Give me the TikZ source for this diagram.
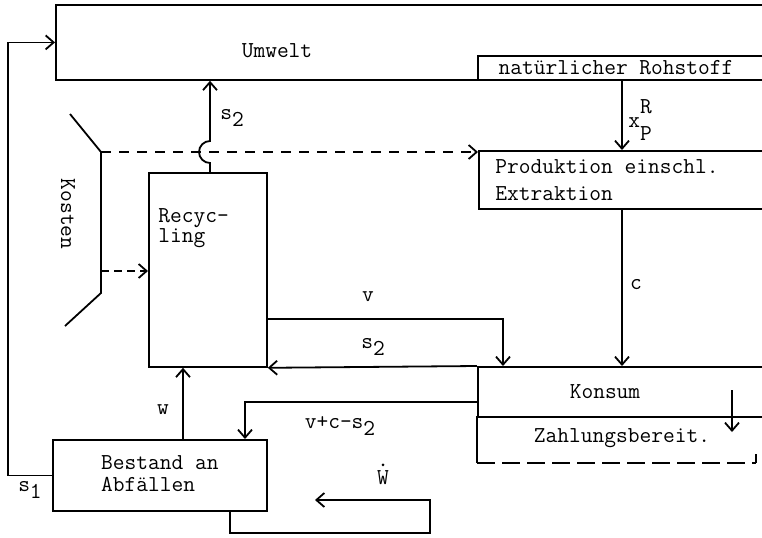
\documentclass[tikz,border=0pt]{standalone}
\usepackage{fontspec}
\usetikzlibrary{arrows.meta}
\newcommand{\lowix}[2]{#1\raisebox{-0.75ex}{#2}}

\tikzset{
  blk/.style={draw,line width=0.9pt,anchor=north west,inner sep=0pt},
  flow/.style={line width=0.9pt,-{Straight Barb[length=4pt,width=7pt]}},
  wire/.style={line width=0.9pt},
  lbl/.style={inner sep=0pt},
}

\begin{document}
\begin{tikzpicture}[x=0.5pt,y=-0.5pt,font=\ttfamily\fontsize{11.4}{13.5}\selectfont]
  \useasboundingbox (0,0) rectangle (762,537);
  \clip (0,0) rectangle (762,537);
  % Kaesten
  \node[blk,minimum width=372.5pt,minimum height=37.5pt] (umwelt) at (55,4) {};
  \node[blk,minimum width=161.5pt,minimum height=12pt] (rohstoff) at (477,55) {};
  \node[blk,minimum width=161pt,minimum height=29pt] (produktion) at (478,150) {};
  \node[blk,minimum width=59pt,minimum height=97pt] (recycling) at (148,172) {};
  \node[blk,minimum width=161.5pt,minimum height=25pt] (konsum) at (477,366) {};
  \node[anchor=north west,inner sep=0pt,minimum width=139pt,minimum height=23pt] (zahl) at (477,416) {};
  \node[blk,minimum width=107pt,minimum height=35.5pt] (bestand) at (52,439) {};
  \draw[wire] (zahl.north west) -- (zahl.south west);
  \draw[wire,dash pattern=on 9pt off 3.5pt] (zahl.south west) -- (zahl.south east);
  \draw[wire] (zahl.south east) -- ++(0,-9);

  \node[lbl] (tumwelt) at (277,51) {Umwelt};
  \node[lbl] (trohstoff) at (616,68) {natürlicher Rohstoff};
  \node[lbl,anchor=west,align=left] (tprod) at (495,180) {Produktion einschl.\\Extraktion};
  \node[lbl,anchor=north west,align=left,font=\ttfamily\fontsize{11.4}{10}\selectfont] (trec) at (158,208) {Recyc-\\ling};
  \node[lbl] (tkonsum) at (605,392) {Konsum};
  \node[lbl] (tzahl) at (622,438) {Zahlungsbereit.};
  \node[lbl,align=left,font=\ttfamily\fontsize{11.4}{11}\selectfont] (tbestand) at ([yshift=1pt]bestand.center) {Bestand an\\Abfällen};
  \node[lbl,rotate=-90] (tkosten) at (68,214) {Kosten};

  % Kosten
  \coordinate (ktop) at (101,152);
  \coordinate (kmid) at (101,271);
  \draw[wire] (70,114) -- (ktop) -- (101,293) -- (65,326);
  \draw[flow,dash pattern=on 5pt off 4pt] (ktop) -- (ktop -| produktion.west);
  \draw[flow,dash pattern=on 4pt off 2.5pt] (kmid) -- (kmid -| recycling.west);

  % Stroeme
  \coordinate (xp) at (622,0);
  \draw[flow] (xp |- rohstoff.south) -- (xp |- produktion.north);
  \node[lbl,anchor=west] (lxp) at (628,120) {x\rlap{\raisebox{1.5ex}{R}}\raisebox{-1.3ex}{P}};
  \draw[flow] (xp |- produktion.south) -- (xp |- konsum.north);
  \node[lbl] (lc) at (636,285) {c};

  \coordinate (sx) at (210,152);
  \draw[flow] (sx |- recycling.north) -- ([yshift=-5.5pt]sx)
    arc[start angle=270,end angle=90,radius=5.5pt] -- (sx |- umwelt.south);
  \node[lbl] (ls2a) at (232,118) {\lowix{s}{2}};

  \coordinate (vy) at (503,319);
  \draw[flow] (vy -| recycling.east) -- (vy) -- (vy |- konsum.north);
  \node[lbl] (lv) at (368,297) {v};
  \draw[flow] (konsum.north west) -- (recycling.south east);
  \node[lbl] (ls2b) at (373,347) {\lowix{s}{2}};

  \coordinate (vk) at (245,402);
  \draw[flow] (vk -| konsum.west) -- (vk) -- (vk |- bestand.north);
  \node[lbl] (lvcs) at (340,426) {v+c-\lowix{s}{2}};

  \coordinate (wx) at (183,0);
  \draw[flow] (wx |- bestand.north) -- (wx |- recycling.south);
  \node[lbl] (lw) at (163,410) {w};

  \draw[flow] (bestand.west) -- ++(-44,0) |- (umwelt.west);
  \node[lbl] (ls1) at (30,490) {\lowix{s}{1}};

  \coordinate (wl) at (230,533);
  \coordinate (wend) at (315,500);
  \draw[flow] (wl |- bestand.south) -- (wl) -- (430,533) |- (wend);
  \node[lbl] (lwd) at (383,478) {W};
  \fill ([yshift=2.8pt]lwd.north) circle (0.75pt);

  \coordinate (zt) at (732,390);
  \coordinate (zb) at (732,432);
  \draw[flow] (zt) -- (zb);
\end{tikzpicture}
\end{document}
